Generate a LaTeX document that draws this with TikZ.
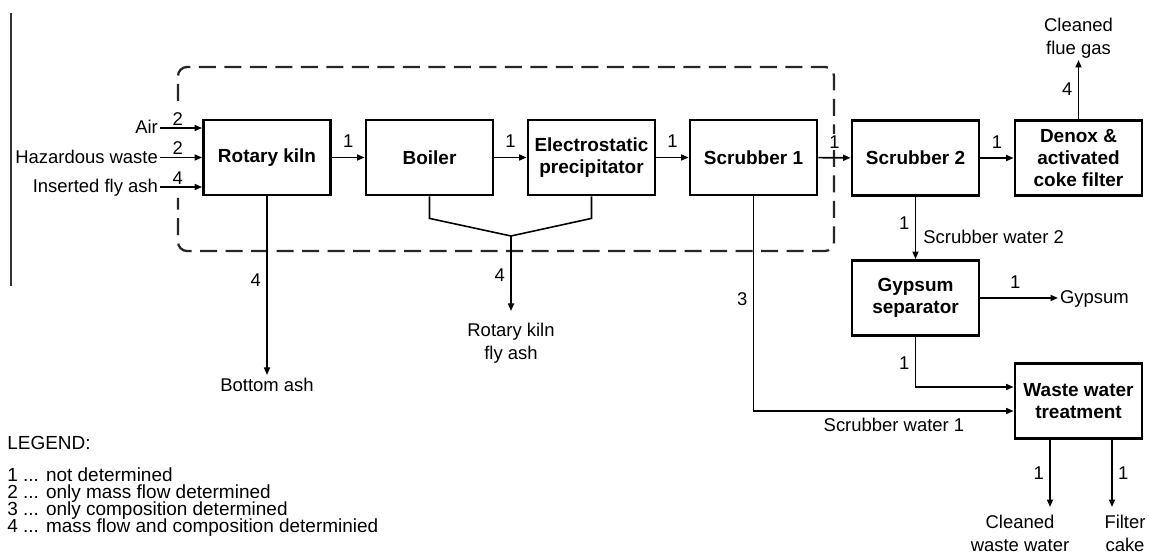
\documentclass[tikz,border=0pt]{standalone}
\usepackage{fontspec}
\setmainfont{Liberation Sans}
\usetikzlibrary{arrows.meta,calc}

\tikzset{
  unit/.style={draw, line width=1.6pt, minimum width=25.4mm, minimum height=15mm,
    align=center, inner sep=1pt, font=\fontsize{10.8}{12.5}\selectfont\bfseries},
  flow/.style={line width=0.9pt, -{Triangle[length=1.5mm,width=1.2mm]}},
  pipe/.style={line width=0.9pt},
  num/.style={inner sep=1pt, fill=white},
  lbl/.style={align=center, inner sep=1pt, font=\fontsize{10.5}{13}\selectfont},
  lbl1/.style={lbl, text height=1.55ex, text depth=0.3ex},
  legline/.style={anchor=west, inner sep=0pt, text height=1.4ex, text depth=0.2ex,
    font=\fontsize{10.8}{13}\selectfont}
}

\begin{document}
\begin{tikzpicture}[x=0.2mm, y=-0.2mm, font=\fontsize{10.5}{13}\selectfont]
\useasboundingbox (0,0) rectangle (1149,554);

     % frame line
     \draw[line width=0.6pt, black!80] (11,13) -- (11,286);

     % incineration plant boundary (open where the inputs enter)
     \draw[line width=1.3pt, black!85, dash pattern=on 3.4mm off 1.7mm,
           rounded corners=1.8mm] (178,101) -- (178,67) -- (834,67) -- (834,251)
           -- (178,251) -- (178,198);

     % process units
     \node[unit] (kiln) at (267,157.5) {Rotary kiln};
     \node[unit] (boiler) at (429.5,157.5) {Boiler};
     \node[unit] (esp) at (591.5,157.5) {Electrostatic\\precipitator};
     \node[unit] (scrub1) at (753.5,157.5) {Scrubber 1};
     \node[unit] (scrub2) at (915.5,158) {Scrubber 2};
     \node[unit] (denox) at (1078.5,158) {Denox \&\\activated\\coke filter};
     \node[unit] (gypsep) at (915.5,298) {Gypsum\\separator};
     \node[unit] (wwt) at (1078.5,401) {Waste water\\treatment};

     % inputs
     \node[lbl1, anchor=east] (air) at (160,128) {Air};
     \node[lbl1, anchor=east] (haz) at (160,157.5) {Hazardous waste};
     \node[lbl1, anchor=east] (insash) at (160,187) {Inserted fly ash};
     \draw[flow] (air.east) -- (air.east -| kiln.west) node[num, pos=0.42, above] {2};
     \draw[flow] (haz.east) -- (haz.east -| kiln.west) node[num, pos=0.42, above] {2};
     \draw[flow] (insash.east) -- (insash.east -| kiln.west) node[num, pos=0.42, above] {4};

     % flue gas line
     \draw[flow] (kiln) -- (boiler) node[num, midway, above=4pt] {1};
     \draw[flow] (boiler) -- (esp) node[num, midway, above=4pt] {1};
     \draw[flow] (esp) -- (scrub1) node[num, midway, above=4pt] {1};
     \draw[flow] (scrub1) -- (scrub2) node[num, midway, above=4pt] {1};
     \draw[flow] (scrub2) -- (denox) node[num, midway, above=4pt] {1};

     % cleaned flue gas
     \node[lbl, anchor=south] (fluegas) at (1078.5,60) {Cleaned\\flue gas};
     \draw[flow] (denox) -- (fluegas) node[num, pos=0.5, left=2pt] {4};

     % bottom ash
     \node[lbl1, anchor=north] (botash) at (267,375) {Bottom ash};
     \draw[flow] (kiln) -- (botash) node[num, pos=0.47, left=2pt] {4};

     % kiln fly ash
     \coordinate (join) at (511,236);
     \coordinate (flyend) at (511,311);
     \draw[pipe] (boiler.south) -- ++(0,22) -- (join) -- ($(esp.south)+(0,22)$) -- (esp.south);
     \draw[flow] (join) -- (flyend) node[num, pos=0.52, left=2pt] {4};
     \node[lbl, anchor=north] (flyash) at (511,321) {Rotary kiln\\fly ash};

     % scrubber water
     \draw[flow] (scrub1.south) |- ($(wwt.west)+(0,10)$)
          node[num, pos=0.24, left=2pt] {3}
          node[lbl1, pos=0.77, below=2pt] {Scrubber water 1};
     \draw[flow] (scrub2) -- (gypsep)
          node[num, pos=0.42, left=2pt] {1}
          node[lbl1, pos=0.66, right=3pt] {Scrubber water 2};

     % gypsum
     \node[lbl1, anchor=west] (gypsum) at (1058,298) {Gypsum};
     \draw[flow] (gypsep) -- (gypsum) node[num, pos=0.45, above=4pt] {1};
     \draw[flow] (gypsep.south) |- ($(wwt.west)+(0,-14)$) node[num, pos=0.26, left=2pt] {1};

     % waste water outputs
     \coordinate (cwwend) at (1050,507);
     \coordinate (cakeend) at (1112,507);
     \draw[flow] (cwwend |- wwt.south) -- (cwwend) node[num, midway, left=2pt] {1};
     \draw[flow] (cakeend |- wwt.south) -- (cakeend) node[num, midway, right=2pt] {1};
     \node[lbl, anchor=north] (cww) at (1020,513) {Cleaned\\waste water};
     \node[lbl, anchor=north] (cake) at (1125,513) {Filter\\cake};

     % legend
     \node[legline] (legend) at (7,443.5) {LEGEND:};
     \node[legline] (leg1) at (7,476) {1 ... not determined};
     \node[legline] (leg2) at (7,493) {2 ... only mass flow determined};
     \node[legline] (leg3) at (7,510) {3 ... only composition determined};
     \node[legline] (leg4) at (7,527) {4 ... mass flow and composition determinied};

\end{tikzpicture}
\end{document}
